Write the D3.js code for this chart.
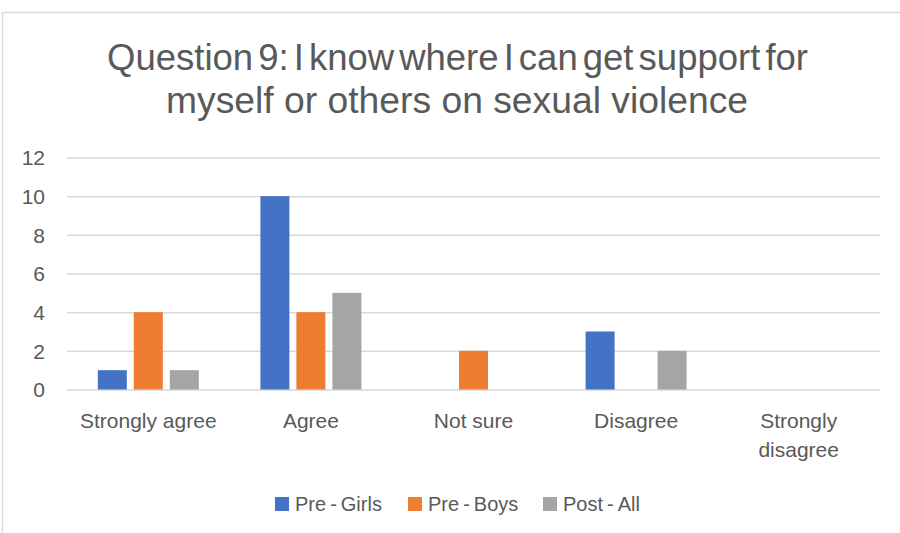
<!DOCTYPE html>
<html><head><meta charset="utf-8">
<script src="https://cdn.jsdelivr.net/npm/d3@7"></script>
<style>body{margin:0;background:#fff}svg{display:block}text{font-family:"Liberation Sans",Arial,sans-serif;fill:#595959}</style>
</head><body>
<script>
const categories = ["Strongly agree","Agree","Not sure","Disagree","Strongly disagree"];
const seriesNames = ["Pre-Girls","Pre-Boys","Post-All"];
const preGirls = [1,10,0,3,0];
const preBoys = [4,4,2,0,0];
const postAll = [1,5,0,2,0];
const yTicks = [0,2,4,6,8,10,12];
const colors = ["#4472c4","#ed7d31","#a5a5a5"];
const series = [preGirls, preBoys, postAll];

const W=900,H=533;
const svg=d3.select("body").append("svg").attr("width",W).attr("height",H);
svg.append("rect").attr("x",2.5).attr("y",12.5).attr("width",W+10).attr("height",H+10).attr("fill","#fff").attr("stroke","#d9d9d9").attr("stroke-width",1.5);

const x=d3.scaleBand().domain(categories).range([67,880]);
const y=d3.scaleLinear().domain([0,12]).range([389.5,157.5]);
const barW=29, gap=7;
const inner=d3.scaleBand().domain(seriesNames).range([-(barW*3+gap*2)/2,(barW*3+gap*2)/2]).paddingInner(gap/(barW+gap));

const ya=d3.axisLeft(y).tickValues(yTicks).tickSize(-(880-67)).tickFormat(d3.format("d"));
const g=svg.append("g").attr("transform","translate(67,0)").call(ya);
g.select(".domain").remove();
g.selectAll(".tick line").attr("stroke","#d9d9d9").attr("stroke-width",1.5);
g.selectAll(".tick text").attr("x",-22).attr("dy","0.35em").style("font-size","21px").attr("fill","#595959");

seriesNames.forEach((s,i)=>{
  svg.append("g").selectAll("rect").data(categories.map((c,j)=>({c,v:series[i][j]}))).join("rect")
    .attr("x",d=>x(d.c)+x.bandwidth()/2+inner(s))
    .attr("width",inner.bandwidth())
    .attr("y",d=>y(d.v)).attr("height",d=>y(0)-y(d.v))
    .attr("fill",colors[i]);
});

const xa=svg.append("g");
categories.forEach(c=>{
  const words = c==="Strongly disagree" ? ["Strongly","disagree"] : [c];
  words.forEach((w,k)=>{
    xa.append("text").attr("x",x(c)+x.bandwidth()/2).attr("y",428+k*29).attr("text-anchor","middle").style("font-size","21px").text(w);
  });
});

svg.append("text").attr("x",457.5).attr("y",70).attr("text-anchor","middle").style("font-size","36px").style("word-spacing","-5px")
  .attr("textLength",701).attr("lengthAdjust","spacingAndGlyphs").text("Question 9: I know where I can get support for");
svg.append("text").attr("x",457).attr("y",113).attr("text-anchor","middle").style("font-size","36px")
  .attr("textLength",582).attr("lengthAdjust","spacingAndGlyphs")
  .text("myself or others on sexual violence");

const leg=svg.append("g");
const legX=[275,408,543];
seriesNames.forEach((s,i)=>{
  leg.append("rect").attr("x",legX[i]).attr("y",497).attr("width",14).attr("height",14).attr("fill",colors[i]);
  const parts=s.split("-");
  const t=leg.append("text").attr("x",legX[i]+20).attr("y",511).style("font-size","20px");
  t.append("tspan").text(parts[0]);
  t.append("tspan").attr("dx",4).text("-");
  t.append("tspan").attr("dx",4).text(parts[1]);
});
</script>
</body></html>
